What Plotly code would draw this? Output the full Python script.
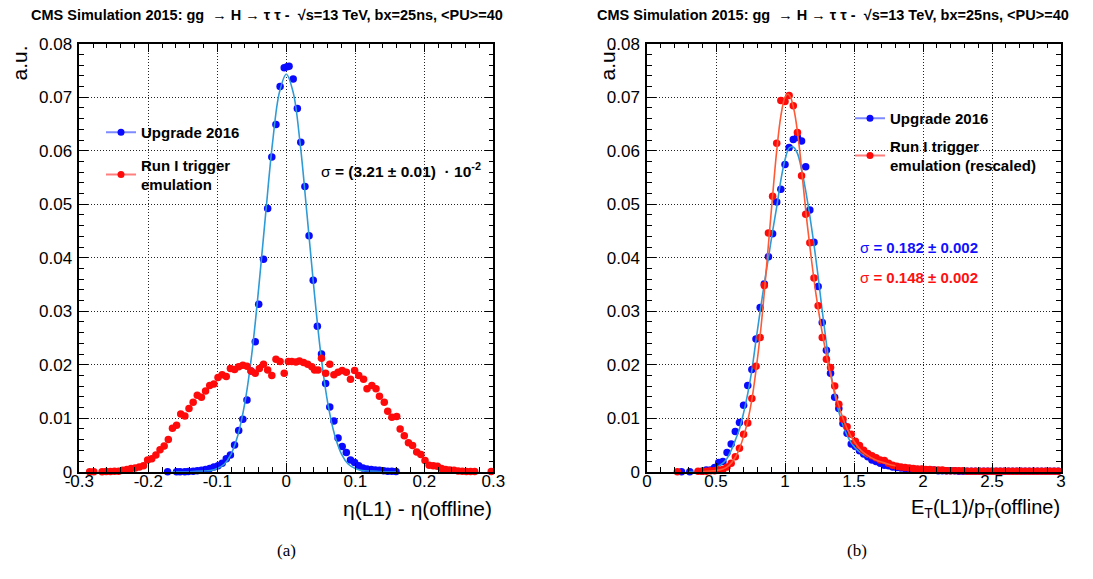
import plotly.graph_objects as go

# ---------------- data: left panel (eta resolution) ----------------
eta_blue_x = [-0.172, -0.159, -0.154, -0.147, -0.142, -0.135, -0.129, -0.123, -0.117, -0.111,
              -0.105, -0.099, -0.093, -0.087, -0.081, -0.075, -0.069, -0.063, -0.057, -0.051,
              -0.045, -0.040, -0.033, -0.027, -0.021, -0.015, -0.009, -0.003, 0.001, 0.004,
              0.010, 0.016, 0.021, 0.027, 0.033, 0.039, 0.045, 0.051, 0.057, 0.063,
              0.069, 0.075, 0.081, 0.087, 0.093, 0.099, 0.105, 0.111, 0.117, 0.123,
              0.129, 0.135, 0.141, 0.147, 0.153, 0.159]
eta_blue_y = [0.0000, 0.0000, 0.0000, 0.0000, 0.00006, 0.0001, 0.0002, 0.00025, 0.0004, 0.0006,
              0.0009, 0.0011, 0.0016, 0.0024, 0.0031, 0.0050, 0.0077, 0.0098, 0.0134, 0.0188,
              0.0243, 0.0313, 0.0397, 0.0492, 0.0588, 0.0649, 0.0720, 0.0755, 0.0757, 0.0758,
              0.0734, 0.0679, 0.0616, 0.0533, 0.0441, 0.0358, 0.0272, 0.0220, 0.0165, 0.0121,
              0.0095, 0.0063, 0.0047, 0.0036, 0.0022, 0.0017, 0.0011, 0.0007, 0.0005, 0.0004,
              0.0003, 0.00025, 0.0002, 0.0001, 0.0001, 0.00006]

eta_red_x = [-0.285, -0.279, -0.267, -0.261, -0.255, -0.249, -0.243, -0.237, -0.231, -0.225,
             -0.219, -0.213, -0.207, -0.201, -0.195, -0.189, -0.183, -0.177, -0.171, -0.165,
             -0.159, -0.153, -0.147, -0.141, -0.135, -0.129, -0.123, -0.117, -0.111, -0.105,
             -0.099, -0.093, -0.087, -0.081, -0.075, -0.069, -0.063, -0.057, -0.051, -0.045,
             -0.039, -0.033, -0.027, -0.021, -0.015, -0.009, -0.003, 0.003, 0.008, 0.014,
             0.019, 0.025, 0.031, 0.037, 0.041, 0.046, 0.051, 0.057, 0.063, 0.069,
             0.075, 0.081, 0.087, 0.093, 0.099, 0.105, 0.112, 0.117, 0.124, 0.130,
             0.135, 0.142, 0.147, 0.153, 0.160, 0.165, 0.171, 0.177, 0.183, 0.189,
             0.195, 0.201, 0.207, 0.213, 0.219, 0.225, 0.231, 0.237, 0.243, 0.249,
             0.255, 0.261, 0.267, 0.273, 0.297]
eta_red_y = [0.0000, 0.0000, 0.0000, 0.00005, 0.00005, 0.0001, 0.0001, 0.00025, 0.0004, 0.0006,
             0.0007, 0.0009, 0.0011, 0.0022, 0.0024, 0.0031, 0.0041, 0.0048, 0.0060, 0.0081,
             0.0087, 0.0108, 0.0104, 0.0118, 0.0130, 0.0143, 0.0139, 0.0151, 0.0161, 0.0164,
             0.0176, 0.0181, 0.0178, 0.0193, 0.0191, 0.0196, 0.0199, 0.0197, 0.0188, 0.0184,
             0.0193, 0.0201, 0.0190, 0.0180, 0.0210, 0.0206, 0.0184, 0.0206, 0.0206, 0.0205,
             0.0207, 0.0204, 0.0201, 0.0196, 0.0190, 0.0190, 0.0212, 0.0184, 0.0201, 0.0181,
             0.0186, 0.0189, 0.0186, 0.0173, 0.0189, 0.0180, 0.0173, 0.0155, 0.0161, 0.0155,
             0.0141, 0.0130, 0.0113, 0.0102, 0.0103, 0.0080, 0.0067, 0.0054, 0.0049, 0.0037,
             0.0032, 0.0021, 0.0012, 0.0011, 0.0010, 0.0006, 0.0004, 0.0003, 0.00025, 0.00012,
             0.0001, 0.00006, 0.00006, 0.00006, 0.00006]

# fitted curve (upgrade)
eta_fit_x = [-0.165, -0.14, -0.12, -0.11, -0.10, -0.09, -0.08, -0.07, -0.06, -0.05, -0.04, -0.03,
             -0.02, -0.01, 0.0, 0.01, 0.02, 0.03, 0.04, 0.05, 0.06, 0.07, 0.08, 0.09, 0.10,
             0.11, 0.12, 0.14, 0.16]
eta_fit_y = [0.0000, 0.0000, 0.0001, 0.0002, 0.0006, 0.0014, 0.0033, 0.0069, 0.0129, 0.0220, 0.0343, 0.0481,
             0.0614, 0.0709, 0.0743, 0.0709, 0.0614, 0.0481, 0.0343, 0.0220, 0.0129, 0.0069, 0.0033, 0.0014, 0.0006,
             0.0002, 0.0001, 0.0000, 0.0000]

# ---------------- data: right panel (ET response) ----------------
et_blue_x = [0.25, 0.31, 0.40, 0.43, 0.46, 0.49, 0.52, 0.55, 0.58, 0.61,
             0.64, 0.67, 0.70, 0.73, 0.76, 0.79, 0.82, 0.85, 0.88, 0.91,
             0.94, 0.97, 1.00, 1.03, 1.06, 1.09, 1.12, 1.15, 1.18, 1.21,
             1.24, 1.27, 1.30, 1.33, 1.36, 1.39, 1.42, 1.45, 1.48, 1.51,
             1.54, 1.57, 1.60, 1.63, 1.66, 1.69, 1.72, 1.75, 1.78, 1.81,
             1.84, 1.87, 1.90, 1.93, 1.96, 1.99, 2.02, 2.05, 2.08, 2.11,
             2.14, 2.17, 2.20, 2.23, 2.26, 2.29, 2.32, 2.35, 2.38, 2.41,
             2.44, 2.47, 2.50, 2.53, 2.56, 2.59, 2.62, 2.65, 2.68, 2.71,
             2.74, 2.77, 2.80, 2.83, 2.86, 2.89, 2.92, 2.95, 2.98]
et_blue_y = [0.0000, 0.0000, 0.0001, 0.0003, 0.0003, 0.0008, 0.0017, 0.0019, 0.0036, 0.0052,
             0.0075, 0.0092, 0.0124, 0.0161, 0.0191, 0.0248, 0.0307, 0.0351, 0.0402, 0.0445,
             0.0504, 0.0528, 0.0574, 0.0606, 0.0621, 0.0625, 0.0618, 0.0570, 0.0489, 0.0429,
             0.0346, 0.0279, 0.0227, 0.0184, 0.0139, 0.0118, 0.0090, 0.0072, 0.0052, 0.0047,
             0.0039, 0.0033, 0.0028, 0.0022, 0.0019, 0.0016, 0.0012, 0.0011, 0.0009, 0.0008,
             0.0007, 0.0006, 0.0005, 0.0005, 0.0004, 0.0004, 0.0003, 0.0003, 0.0003, 0.0002,
             0.0002, 0.0002, 0.0002, 0.0002, 0.0001, 0.0001, 0.0001, 0.0001, 0.0001, 0.0001,
             0.0001, 0.0001, 0.0001, 0.0001, 0.0001, 0.0001, 0.0001, 0.0001, 0.0001, 0.0001,
             0.0001, 0.0001, 0.0001, 0.0001, 0.0001, 0.0001, 0.0001, 0.0001, 0.0001]

et_red_x = [0.22, 0.37, 0.40, 0.43, 0.46, 0.49, 0.52, 0.55, 0.58, 0.61,
            0.64, 0.67, 0.70, 0.73, 0.76, 0.79, 0.82, 0.85, 0.88, 0.91,
            0.94, 0.97, 1.00, 1.03, 1.06, 1.09, 1.12, 1.15, 1.18, 1.21,
            1.24, 1.27, 1.30, 1.33, 1.36, 1.39, 1.42, 1.45, 1.48, 1.51,
            1.54, 1.57, 1.60, 1.63, 1.66, 1.69, 1.72, 1.75, 1.78, 1.81,
            1.84, 1.87, 1.90, 1.93, 1.96, 1.99, 2.02, 2.05, 2.08, 2.11,
            2.14, 2.17, 2.20, 2.23, 2.26, 2.29, 2.32, 2.35, 2.38, 2.41,
            2.44, 2.47, 2.50, 2.53, 2.56, 2.59, 2.62, 2.65, 2.68, 2.71,
            2.74, 2.77, 2.80, 2.83, 2.86, 2.89, 2.92, 2.95, 2.98]
et_red_y = [0.0000, 0.0001, 0.0001, 0.0001, 0.0002, 0.0002, 0.0003, 0.0004, 0.0009, 0.0016,
            0.0028, 0.0044, 0.0070, 0.0091, 0.0137, 0.0197, 0.0251, 0.0348, 0.0446, 0.0515,
            0.0614, 0.0694, 0.0692, 0.0703, 0.0684, 0.0634, 0.0553, 0.0481, 0.0428, 0.0362,
            0.0310, 0.0251, 0.0210, 0.0195, 0.0160, 0.0126, 0.0098, 0.0084, 0.0070, 0.0057,
            0.0049, 0.0040, 0.0034, 0.0030, 0.0026, 0.0022, 0.0021, 0.0016, 0.0012, 0.0010,
            0.0009, 0.0008, 0.0007, 0.0006, 0.0005, 0.0005, 0.0004, 0.0004, 0.0003, 0.0003,
            0.0003, 0.0002, 0.0002, 0.0002, 0.0002, 0.0002, 0.0001, 0.0001, 0.0001, 0.0001,
            0.0001, 0.0001, 0.0001, 0.0001, 0.0001, 0.0001, 0.0001, 0.0001, 0.0001, 0.0001,
            0.0001, 0.0001, 0.0001, 0.0001, 0.0001, 0.0001, 0.0001, 0.0001, 0.0001]

et_blue_fit_x = [0.30, 0.40, 0.45, 0.50, 0.55, 0.58, 0.61, 0.64, 0.67, 0.70, 0.73, 0.76, 0.79, 0.82,
                 0.85, 0.88, 0.91, 0.94, 0.97, 1.00, 1.03, 1.06, 1.09, 1.12, 1.15, 1.18, 1.21,
                 1.24, 1.27, 1.30, 1.33, 1.36, 1.39, 1.42, 1.45, 1.48, 1.51, 1.55, 1.60]
et_blue_fit_y = [0.0000, 0.0001, 0.0003, 0.0008, 0.0016, 0.0025, 0.0040, 0.0059, 0.0080, 0.0110, 0.0146, 0.0190, 0.0246, 0.0300,
                 0.0352, 0.0400, 0.0449, 0.0495, 0.0545, 0.0583, 0.0605, 0.0607, 0.0595, 0.0565, 0.0525, 0.0478, 0.0425,
                 0.0365, 0.0300, 0.0240, 0.0188, 0.0145, 0.0112, 0.0087, 0.0068, 0.0054, 0.0044, 0.0035, 0.0027]

et_red_fit_x = [0.40, 0.50, 0.55, 0.58, 0.61, 0.64, 0.67, 0.70, 0.73, 0.76, 0.79, 0.82, 0.85, 0.88,
                0.91, 0.94, 0.97, 1.00, 1.02, 1.04, 1.07, 1.10, 1.13, 1.16, 1.19, 1.22, 1.25, 1.28,
                1.31, 1.34, 1.37, 1.40, 1.43, 1.46, 1.50, 1.55, 1.60, 1.65, 1.70, 1.75, 1.80]
et_red_fit_y = [0.0000, 0.0002, 0.0005, 0.0009, 0.0016, 0.0027, 0.0043, 0.0066, 0.0095, 0.0135, 0.0190, 0.0255, 0.0335, 0.0425,
                0.0515, 0.0600, 0.0665, 0.0700, 0.0706, 0.0700, 0.0670, 0.0615, 0.0540, 0.0465, 0.0400, 0.0340, 0.0290, 0.0245,
                0.0205, 0.0170, 0.0140, 0.0115, 0.0093, 0.0075, 0.0057, 0.0040, 0.0030, 0.0023, 0.0018, 0.0014, 0.0011]

y_ticks = [0, 0.01, 0.02, 0.03, 0.04, 0.05, 0.06, 0.07, 0.08]
y_ticktext = ["0", "0.01", "0.02", "0.03", "0.04", "0.05", "0.06", "0.07", "0.08"]
eta_ticks = [-0.3, -0.2, -0.1, 0, 0.1, 0.2, 0.3]
eta_ticktext = ["-0.3", "-0.2", "-0.1", "0", "0.1", "0.2", "0.3"]
et_ticks = [0, 0.5, 1, 1.5, 2, 2.5, 3]
et_ticktext = ["0", "0.5", "1", "1.5", "2", "2.5", "3"]

# ---------------- styling ----------------
PAGE_W, PAGE_H = 1093, 579
BODY = 8                       # default page body margin
W, H = PAGE_W - 2 * BODY, PAGE_H - 2 * BODY
BLUE = "#0a0aff"
RED = "#ff0a0a"
BLUE_FIT = "#2f9bd6"
RED_FIT = "#ff5a36"
FONT = "Liberation Sans, Arial, sans-serif"

fig = go.Figure()

mk = dict(size=7.5)

# left panel
fig.add_trace(go.Scatter(x=eta_blue_x, y=eta_blue_y, mode="markers", marker=dict(color=BLUE, **mk),
                         showlegend=False, cliponaxis=False, xaxis="x", yaxis="y"))
fig.add_trace(go.Scatter(x=eta_fit_x, y=eta_fit_y, mode="lines", line=dict(color=BLUE_FIT, width=1.6, shape="spline"),
                         showlegend=False, xaxis="x", yaxis="y"))
fig.add_trace(go.Scatter(x=eta_red_x, y=eta_red_y, mode="markers", marker=dict(color=RED, **mk),
                         showlegend=False, cliponaxis=False, xaxis="x", yaxis="y"))

# right panel
fig.add_trace(go.Scatter(x=et_blue_x, y=et_blue_y, mode="markers", marker=dict(color=BLUE, **mk),
                         showlegend=False, cliponaxis=False, xaxis="x2", yaxis="y2"))
fig.add_trace(go.Scatter(x=et_blue_fit_x, y=et_blue_fit_y, mode="lines", line=dict(color=BLUE_FIT, width=1.6, shape="spline"),
                         showlegend=False, xaxis="x2", yaxis="y2"))
fig.add_trace(go.Scatter(x=et_red_x, y=et_red_y, mode="markers", marker=dict(color=RED, **mk),
                         showlegend=False, cliponaxis=False, xaxis="x2", yaxis="y2"))
fig.add_trace(go.Scatter(x=et_red_fit_x, y=et_red_fit_y, mode="lines", line=dict(color=RED_FIT, width=1.6, shape="spline"),
                         showlegend=False, xaxis="x2", yaxis="y2"))

# legend entries
def leg(name, lc, mc, legend, group, xa, ya):
    fig.add_trace(go.Scatter(x=[None], y=[None], mode="lines+markers", name=name,
                             line=dict(color=lc, width=2), marker=dict(color=mc, size=7),
                             legend=legend, legendgroup=group, xaxis=xa, yaxis=ya))

leg("<b>Upgrade 2016</b>", "rgba(40,60,255,0.6)", BLUE, "legend", "a1", "x", "y")
leg("<b>Run I trigger<br>emulation</b>", "rgba(255,40,40,0.6)", RED, "legend", "a2", "x", "y")
leg("<b>Upgrade 2016</b>", "rgba(40,60,255,0.6)", BLUE, "legend2", "b1", "x2", "y2")
leg("<b>Run I trigger<br>emulation (rescaled)</b>", "rgba(255,40,40,0.6)", RED, "legend2", "b2", "x2", "y2")

# convert page-pixel layout positions into paper fractions
def px(v):
    return (v - BODY) / W

def py(v):
    return 1 - (v - BODY) / H

ydom = [py(471.7), py(43.7)]

axis_common = dict(showline=True, linecolor="black", linewidth=1.5, mirror="allticks",
                   ticks="inside", ticklen=9, tickwidth=1, tickcolor="black",
                   showgrid=True, gridcolor="#222", griddash="1px,2px", gridwidth=1,
                   zeroline=False, automargin=False,
                   tickfont=dict(family=FONT, size=17, color="black"))

fig.update_layout(
    width=W, height=H, margin=dict(l=0, r=0, t=0, b=0, autoexpand=False),
    paper_bgcolor="white", plot_bgcolor="white",
    xaxis=dict(domain=[px(79.3), px(493.3)], range=[-0.3, 0.3], anchor="y",
               tickvals=eta_ticks, ticktext=eta_ticktext, ticklabelstandoff=-7,
               minor=dict(ticks="inside", ticklen=5, dtick=0.02, tickcolor="black", showgrid=False),
               **axis_common),
    yaxis=dict(domain=ydom, range=[0, 0.08], anchor="x",
               tickvals=y_ticks, ticktext=y_ticktext, ticklabelstandoff=2,
               minor=dict(ticks="inside", ticklen=5, dtick=0.002, tickcolor="black", showgrid=False),
               **axis_common),
    xaxis2=dict(domain=[px(647), px(1061)], range=[0, 3], anchor="y2",
                tickvals=et_ticks, ticktext=et_ticktext, ticklabelstandoff=-7,
                minor=dict(ticks="inside", ticklen=5, dtick=0.1, tickcolor="black", showgrid=False),
                **axis_common),
    yaxis2=dict(domain=ydom, range=[0, 0.08], anchor="x2",
                tickvals=y_ticks, ticktext=y_ticktext, ticklabelstandoff=2,
                minor=dict(ticks="inside", ticklen=5, dtick=0.002, tickcolor="black", showgrid=False),
                **axis_common),
    legend=dict(x=px(101), y=py(116), xanchor="left", yanchor="top", bgcolor="rgba(0,0,0,0)",
                font=dict(family=FONT, size=15, color="black"), traceorder="grouped",
                tracegroupgap=10, valign="middle"),
    legend2=dict(x=px(850), y=py(102), xanchor="left", yanchor="top", bgcolor="rgba(0,0,0,0)",
                 font=dict(family=FONT, size=15, color="black"), traceorder="grouped",
                 tracegroupgap=5, valign="middle"),
)

NB = "\u00a0"
title = ("<b>CMS Simulation 2015: gg" + NB * 2 + "→" + NB + "H" + NB + "→" + NB + "τ" + NB + "τ" + NB + "-"
         + NB * 2 + "√s=13 TeV, bx=25ns, &lt;PU&gt;=40</b>")
ann = [
    dict(text=title, x=px(29), y=py(15), xanchor="left", yanchor="middle", align="left",
         font=dict(family=FONT, size=14.5, color="black")),
    dict(text=title, x=px(595), y=py(15), xanchor="left", yanchor="middle", align="left",
         font=dict(family=FONT, size=14.5, color="black")),
    dict(text="a.u.", textangle=-90, x=px(19), y=py(44), xanchor="center", yanchor="top",
         font=dict(family=FONT, size=21, color="black")),
    dict(text="a.u.", textangle=-90, x=px(607), y=py(44), xanchor="center", yanchor="top",
         font=dict(family=FONT, size=21, color="black")),
    dict(text="η(L1) - η(offline)", x=px(494), y=py(508), xanchor="right", yanchor="middle",
         font=dict(family=FONT, size=21, color="black")),
    dict(text="E<sub>T</sub>(L1)/p<sub>T</sub>(offline)", x=px(1062), y=py(508), xanchor="right", yanchor="middle",
         font=dict(family=FONT, size=20, color="black")),
    dict(text="(a)", x=px(286), y=py(550), xanchor="center", yanchor="middle",
         font=dict(family="Liberation Serif, Times New Roman, serif", size=17, color="black")),
    dict(text="(b)", x=px(857), y=py(550), xanchor="center", yanchor="middle",
         font=dict(family="Liberation Serif, Times New Roman, serif", size=17, color="black")),
    dict(text="σ <b>= (3.21 ± 0.01)" + NB + " · 10<sup>-2</sup></b>", x=px(319), y=py(170), xanchor="left",
         yanchor="middle", align="left", font=dict(family=FONT, size=15.5, color="black")),
    dict(text="σ <b>= 0.182 ± 0.002</b>", x=px(858), y=py(248), xanchor="left", yanchor="middle",
         align="left", font=dict(family=FONT, size=15, color="#1010ff")),
    dict(text="σ <b>= 0.148 ± 0.002</b>", x=px(858), y=py(277), xanchor="left", yanchor="middle",
         align="left", font=dict(family=FONT, size=15, color="#ff1010")),
]
for a in ann:
    a.update(xref="paper", yref="paper", showarrow=False)
fig.update_layout(annotations=ann)

fig.write_html("out.html")
